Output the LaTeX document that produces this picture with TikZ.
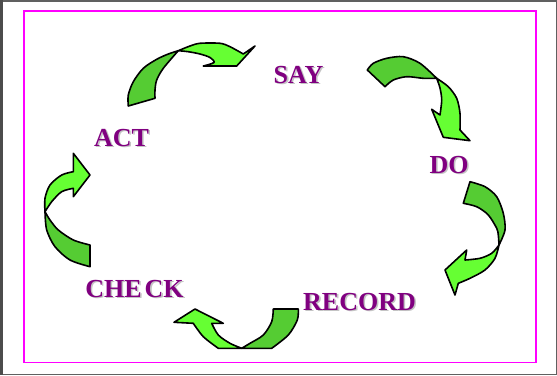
\documentclass[tikz,border=0pt]{standalone}
\usepackage{fontspec}
\setmainfont{Liberation Serif}
\usetikzlibrary{positioning}

\definecolor{wordpurple}{HTML}{800080}
\definecolor{wordshade}{HTML}{C4C4C4}
\definecolor{headgreen}{HTML}{66FF33}
\definecolor{tailgreen}{HTML}{55CC33}
\definecolor{slidemagenta}{HTML}{FF00FF}

% text with a grey drop shadow behind it
\newcommand{\shadowed}[1]{%
  \makebox[0pt][l]{\kern1.6pt\raisebox{-1.6pt}{\textcolor{wordshade}{#1}}}#1}

\begin{document}
\begin{tikzpicture}[
    x=1pt, y=-1pt,
    word/.style={anchor=base, inner sep=0pt, text=wordpurple, font=\fontsize{26}{28}\selectfont\bfseries},
    tailpart/.style={fill=tailgreen, draw=black, line width=1.6pt, line join=round},
    headpart/.style={fill=headgreen, draw=black, line width=1.6pt, line join=round},
    frameline/.style={draw=gray!75!black, line width=1.5pt}
]
\useasboundingbox (0,0) rectangle (557,375);

% slide frame
\draw[frameline] (0.75,0.75) rectangle (556.25,374.25);
\draw[draw=black!70, line width=2.5pt] (1.25,0) -- (1.25,375);
\draw[draw=slidemagenta, line width=1.6pt] (24.2,11.2) rectangle (535.8,362.4);

% stage labels
\node[word] (say) at (298.5,83) {\shadowed{SAY}};
\node[word] (do) at (449,173) {\shadowed{DO}};
\node[word] (record) at (359.5,310) {\shadowed{RECORD}};
\node[word] (check) at (134.5,297) {\shadowed{CHE\kern3pt CK}};
\node[word] (act) at (121.5,146) {\shadowed{ACT}};

% ACT -> SAY
\draw[tailpart] plot[smooth] coordinates {(128.3,106) (128.3,95) (133.3,81.7) (143.3,68.3) (156.7,59.3) (168.3,54) (178.3,50.7)}
  -- plot[smooth] coordinates {(178.3,50.7) (163.3,68.3) (156.7,80) (155,90) (155,98.3)} -- cycle;
\draw[headpart] plot[smooth] coordinates {(178.3,50.7) (190,46) (200,43.3) (220,43.3) (230,46.7) (243.3,54)}
  -- (255,46) -- (236.7,66) -- (203.3,66)
  -- plot[smooth] coordinates {(203.3,66) (214,62.5) (210,57.5) (200,54) (188.3,51.7) (178.3,50.7)} -- cycle;

% SAY -> DO
\draw[tailpart] plot[smooth] coordinates {(367.3,70) (373.3,63.3) (386.7,58.3) (403.3,56.7) (420,63.3) (436.7,78.3)}
  -- plot[smooth] coordinates {(436.7,78.3) (423.3,78.3) (406.7,76.7) (393.3,80) (385,86.7)} -- cycle;
\draw[headpart] plot[smooth] coordinates {(436.7,78.3) (448.3,86.7) (456.7,98.3) (460,113.3) (460,130)}
  -- (470,140.7) -- (443.3,137.3) -- (431.7,109.3) -- (440,115)
  -- plot[smooth] coordinates {(440,115) (441.7,100) (440,88) (436.7,78.3)} -- cycle;

% DO -> RECORD
\draw[tailpart] plot[smooth] coordinates {(470,181.7) (485,186.7) (496.7,196.7) (503.3,213.3) (505,230) (499,245)}
  -- plot[smooth] coordinates {(499,245) (498.3,235) (496.7,228.3) (488.3,215) (476.7,206.7) (463.3,203.3)} -- cycle;
\draw[headpart] plot[smooth] coordinates {(499,245) (495,258.3) (485,270) (470,278.3) (458.3,283.3)}
  -- (455,295) -- (445,270) -- (466.7,250) -- (465,260)
  -- plot[smooth] coordinates {(465,260) (480,258.3) (491.7,253.3) (499,245)} -- cycle;

% RECORD -> CHECK
\draw[tailpart] plot[smooth] coordinates {(298.3,309) (297.3,320) (288.3,335) (271.7,348.3)}
  -- (241.7,348.3)
  -- plot[smooth] coordinates {(241.7,348.3) (250,343.3) (263.3,335) (271.7,321.7) (273.3,309)} -- cycle;
\draw[headpart] (241.7,348.3) -- (218.3,348.3)
  -- plot[smooth] coordinates {(218.3,348.3) (203.3,336.7) (193.3,323.3)}
  -- (174,322.3) -- (195,309) -- (223.3,323.3) -- (211.7,323.3)
  -- plot[smooth] coordinates {(211.7,323.3) (218.3,335) (230,343.3) (241.7,348.3)} -- cycle;

% CHECK -> ACT
\draw[tailpart] (90,245) -- (90,266.7)
  -- plot[smooth] coordinates {(90,266.7) (70,260) (55,246.7) (46.7,230) (45,211.7)}
  -- plot[smooth] coordinates {(45,211.7) (50,220) (58.3,230) (73.3,240) (90,245)} -- cycle;
\draw[headpart] plot[smooth] coordinates {(45,211.7) (45,198.3) (50,185) (61.7,175) (73.3,171.7)}
  -- (73.3,153.3) -- (90,175) -- (73.3,196.7) -- (73.3,188.3)
  -- plot[smooth] coordinates {(73.3,188.3) (61.7,191.7) (51.7,201.7) (45,211.7)} -- cycle;
\end{tikzpicture}
\end{document}
